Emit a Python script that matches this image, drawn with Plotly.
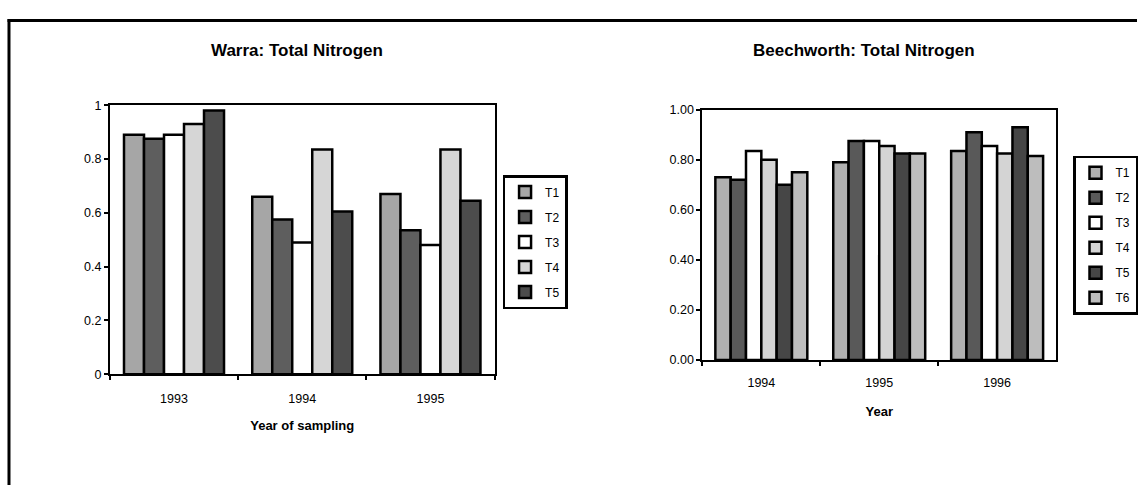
import plotly.graph_objects as go

W, H = 1138, 492

# Warra: total nitrogen by treatment and sampling year
warra_years = ["1993", "1994", "1995"]
warra_T1 = [0.89, 0.66, 0.67]
warra_T2 = [0.875, 0.575, 0.535]
warra_T3 = [0.89, 0.49, 0.48]
warra_T4 = [0.93, 0.835, 0.835]
warra_T5 = [0.98, 0.605, 0.645]

# Beechworth: total nitrogen by treatment and year
beech_years = ["1994", "1995", "1996"]
beech_T1 = [0.73, 0.79, 0.835]
beech_T2 = [0.72, 0.875, 0.91]
beech_T3 = [0.835, 0.875, 0.855]
beech_T4 = [0.80, 0.855, 0.825]
beech_T5 = [0.70, 0.825, 0.93]
beech_T6 = [0.75, 0.825, 0.815]

warra_series = [("T1", warra_T1, "#a6a6a6"), ("T2", warra_T2, "#5e5e5e"),
                ("T3", warra_T3, "#ffffff"), ("T4", warra_T4, "#d6d6d6"),
                ("T5", warra_T5, "#4c4c4c")]
beech_series = [("T1", beech_T1, "#b0b0b0"), ("T2", beech_T2, "#595959"),
                ("T3", beech_T3, "#ffffff"), ("T4", beech_T4, "#d4d4d4"),
                ("T5", beech_T5, "#464646"), ("T6", beech_T6, "#bdbdbd")]

FONT = "Liberation Sans, Arial, sans-serif"

fig = go.Figure()
for name, vals, col in warra_series:
    fig.add_trace(go.Bar(x=warra_years, y=vals, name=name, marker_color=col,
                         marker_line=dict(color="black", width=2.5),
                         xaxis="x", yaxis="y", legend="legend",
                         legendgroup="w" + name))
for name, vals, col in beech_series:
    fig.add_trace(go.Bar(x=beech_years, y=vals, name=name, marker_color=col,
                         marker_line=dict(color="black", width=2.5),
                         xaxis="x2", yaxis="y2", legend="legend2",
                         legendgroup="b" + name))

def px_x(p):
    return p / W

def px_y(p):
    return 1 - p / H

axis_common = dict(showline=True, linecolor="black", linewidth=2, mirror=True,
                   showgrid=False, zeroline=False, ticks="outside", ticklen=4,
                   tickcolor="black", tickwidth=1.5,
                   tickfont=dict(family=FONT, size=12.5, color="black"))

title_font = dict(family=FONT, size=13, color="black")

fig.update_layout(
    width=W, height=H,
    margin=dict(l=0, r=0, t=0, b=0),
    paper_bgcolor="white", plot_bgcolor="white",
    barmode="group", bargap=0.22, bargroupgap=0,
    showlegend=True,
    font=dict(family=FONT, color="black"),
    xaxis=dict(domain=[px_x(110), px_x(495)], anchor="y", tickson="boundaries",
               ticklabelstandoff=12,
               title=dict(text="<b>Year of sampling</b>", standoff=16,
                          font=title_font),
               **axis_common),
    yaxis=dict(domain=[px_y(378), px_y(101)], anchor="x", range=[0, 1],
               tickvals=[0, 0.2, 0.4, 0.6, 0.8, 1],
               ticktext=["0", "0.2", "0.4", "0.6", "0.8", "1"], **axis_common),
    xaxis2=dict(domain=[px_x(703), px_x(1057)], anchor="y2", tickson="boundaries",
                ticklabelstandoff=10,
                title=dict(text="<b>Year</b>", standoff=18, font=title_font),
                **axis_common),
    yaxis2=dict(domain=[px_y(363.3), px_y(105.7)], anchor="x2", range=[0, 1],
                tickvals=[0, 0.2, 0.4, 0.6, 0.8, 1], tickformat=".2f",
                **axis_common),
    legend=dict(x=px_x(503), y=px_y(173), xanchor="left", yanchor="top",
                bordercolor="black", borderwidth=2.5, bgcolor="white",
                tracegroupgap=6, itemwidth=30,
                font=dict(family=FONT, size=12, color="black")),
    legend2=dict(x=px_x(1074), y=px_y(153), xanchor="left", yanchor="top",
                 bordercolor="black", borderwidth=2.5, bgcolor="white",
                 tracegroupgap=6, itemwidth=30,
                 font=dict(family=FONT, size=12, color="black")),
    annotations=[
        dict(text="<b>Warra: Total Nitrogen</b>", x=px_x(297), y=px_y(45),
             xref="paper", yref="paper", xanchor="center", yanchor="middle",
             showarrow=False, font=dict(family=FONT, size=17)),
        dict(text="<b>Beechworth: Total Nitrogen</b>", x=px_x(865), y=px_y(45),
             xref="paper", yref="paper", xanchor="center", yanchor="middle",
             showarrow=False, font=dict(family=FONT, size=17)),
    ],
    shapes=[
        dict(type="line", xref="paper", yref="paper", x0=px_x(7.5), x1=1,
             y0=px_y(14), y1=px_y(14), line=dict(color="black", width=3)),
        dict(type="line", xref="paper", yref="paper", x0=px_x(9), x1=px_x(9),
             y0=px_y(12.5), y1=0, line=dict(color="black", width=3)),
    ],
)

fig.write_html("out.html")
